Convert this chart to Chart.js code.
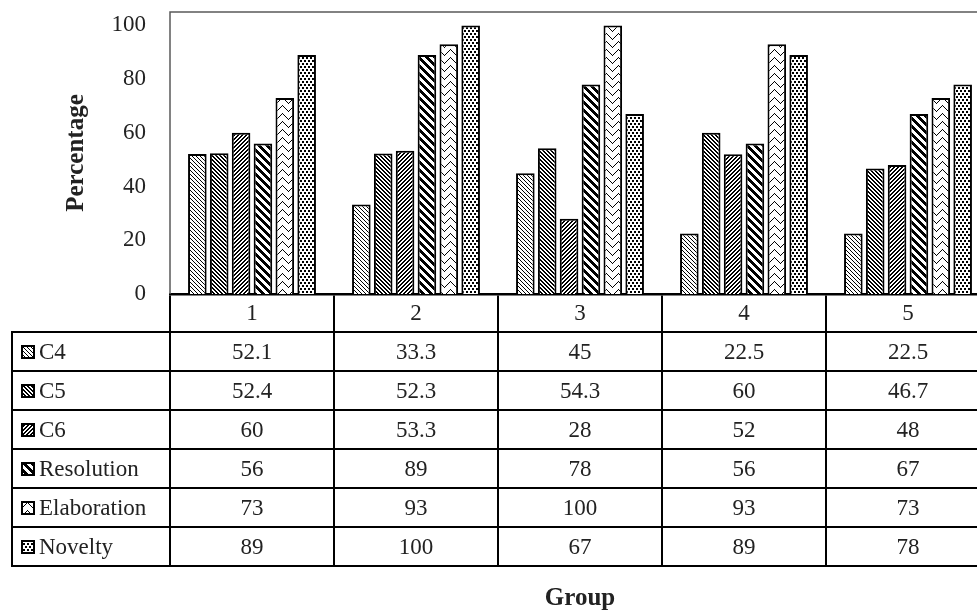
<!DOCTYPE html>
<html>
<head>
<meta charset="utf-8">
<script src="https://cdn.jsdelivr.net/npm/chart.js@4"></script>
<style>
  html, body { margin: 0; padding: 0; overflow: hidden; background: #fff; }
  #wrap { position: relative; width: 990px; height: 615px; }
  #tbl div.cell {
    position: absolute; box-sizing: border-box; border: 2px solid #000;
    display: flex; align-items: center; justify-content: center;
    font: 23px "Liberation Serif", serif; color: #222;
  }
  #tbl div.cell.name { justify-content: flex-start; padding-left: 8px; }
  #tbl canvas { margin-right: 4px; }
</style>
</head>
<body>
<div id="wrap">
  <canvas id="chart" width="990" height="615"></canvas>
  <div id="tbl"></div>
</div>
<script>
const groups = ['1', '2', '3', '4', '5'];
const seriesNames = ['C4', 'C5', 'C6', 'Resolution', 'Elaboration', 'Novelty'];
const c4 = [52.1, 33.3, 45, 22.5, 22.5];
const c5 = [52.4, 52.3, 54.3, 60, 46.7];
const c6 = [60, 53.3, 28, 52, 48];
const resolution = [56, 89, 78, 56, 67];
const elaboration = [73, 93, 100, 93, 73];
const novelty = [89, 100, 67, 89, 78];
const yTicks = [0, 20, 40, 60, 80, 100];

const seriesData = [c4, c5, c6, resolution, elaboration, novelty];
const FONT = '"Liberation Serif", serif';

// hatch tiles: [width, height, pixel rule]
const patternRules = [
  [8, 8, (x, y) => ((x - y + 16) % 4) === 0],          // light downward diagonal
  [8, 8, (x, y) => ((x - y + 16) % 4) < 2],            // dark downward diagonal
  [8, 8, (x, y) => ((x + y) % 4) < 2],                 // dark upward diagonal
  [8, 8, (x, y) => ((x - y + 16) % 8) < 4],            // wide downward diagonal
  [12, 8, (x, y) => y === ((x < 6 ? 6 - x : x - 6) + 1) % 8], // zig zag
  [8, 6, (x, y) => [[0,0],[4,0],[2,3],[6,3]].some(([a, b]) => (x === a || x === a + 1) && (y === b || y === b + 1))] // dots
];

function makeTile([w, h, rule]) {
  const c = document.createElement('canvas');
  c.width = w; c.height = h;
  const g = c.getContext('2d');
  g.fillStyle = '#fff';
  g.fillRect(0, 0, w, h);
  g.fillStyle = '#000';
  for (let y = 0; y < h; y++)
    for (let x = 0; x < w; x++)
      if (rule(x, y)) g.fillRect(x, y, 1, 1);
  return c;
}

const mainCtx = document.getElementById('chart').getContext('2d');
const tiles = patternRules.map(makeTile);
const patterns = tiles.map(t => mainCtx.createPattern(t, 'repeat'));

// plot area frame (top + left), drawn before the bars
const frame = {
  id: 'frame',
  beforeDatasetsDraw(chart) {
    const { ctx, chartArea: a } = chart;
    ctx.save();
    ctx.strokeStyle = '#595959';
    ctx.lineWidth = 1.5;
    ctx.beginPath();
    ctx.moveTo(a.left, a.bottom);
    ctx.lineTo(a.left, a.top);
    ctx.lineTo(a.right, a.top);
    ctx.stroke();
    ctx.restore();
  }
};

const chart = new Chart(mainCtx, {
  type: 'bar',
  data: {
    labels: groups,
    datasets: seriesNames.map((name, i) => ({
      label: name,
      data: seriesData[i],
      backgroundColor: patterns[i],
      borderColor: '#000',
      borderWidth: 2,
      categoryPercentage: 0.8,
      barPercentage: 0.85
    }))
  },
  options: {
    responsive: false,
    animation: false,
    devicePixelRatio: 1,
    layout: { padding: { top: 12, left: 0, right: 0, bottom: 0 } },
    plugins: { legend: { display: false }, tooltip: { enabled: false } },
    scales: {
      x: {
        grid: { display: true, drawOnChartArea: false, drawTicks: true, tickLength: 38, offset: true, color: '#000', lineWidth: 2 },
        border: { display: true, color: '#000', width: 2.5 },
        ticks: { padding: -32, color: '#222', font: { family: FONT, size: 23 }, maxRotation: 0 },
        title: { display: true, text: 'Group', color: '#222', font: { family: FONT, size: 25, weight: 'bold' }, padding: { top: 0, bottom: 1 } },
        afterFit: s => { s.height = 321; s.paddingLeft = 0; s.paddingRight = 0; }
      },
      y: {
        min: 0,
        max: 105,
        grid: { display: false, drawTicks: false },
        border: { display: false },
        ticks: { padding: 24, color: '#222', font: { family: FONT, size: 23 } },
        afterBuildTicks: s => { s.ticks = yTicks.map(v => ({ value: v })); },
        title: { display: true, text: 'Percentage', color: '#222', font: { family: FONT, size: 25, weight: 'bold' }, padding: { top: 62, bottom: 0 } },
        afterFit: s => { s.width = 170; s.paddingTop = 0; s.paddingBottom = 0; }
      }
    }
  },
  plugins: [frame]
});

// data table under the axis
function buildTable() {
  const xs = chart.scales.x;
  const n = groups.length;
  const edges = [12];
  for (let i = 0; i <= n; i++) edges.push(xs.left + (xs.right - xs.left) * i / n);
  const top0 = xs.top + 38;
  const rowH = 39;
  const tbl = document.getElementById('tbl');

  seriesNames.forEach((name, r) => {
    for (let c = 0; c <= n; c++) {
      const d = document.createElement('div');
      d.className = 'cell' + (c === 0 ? ' name' : '');
      d.style.left = (edges[c] - 1) + 'px';
      d.style.top = (top0 + r * rowH - 1) + 'px';
      d.style.width = (edges[c + 1] - edges[c] + 2) + 'px';
      d.style.height = (rowH + 2) + 'px';
      if (c === 0) {
        const sw = document.createElement('canvas');
        sw.width = 14; sw.height = 14;
        const g = sw.getContext('2d');
        g.fillStyle = g.createPattern(tiles[r], 'repeat');
        g.fillRect(0, 0, 14, 14);
        g.strokeStyle = '#000';
        g.lineWidth = 2;
        g.strokeRect(1, 1, 12, 12);
        d.appendChild(sw);
        d.appendChild(document.createTextNode(name));
      } else {
        d.textContent = String(seriesData[r][c - 1]);
      }
      tbl.appendChild(d);
    }
  });
}
buildTable();
</script>
</body>
</html>
